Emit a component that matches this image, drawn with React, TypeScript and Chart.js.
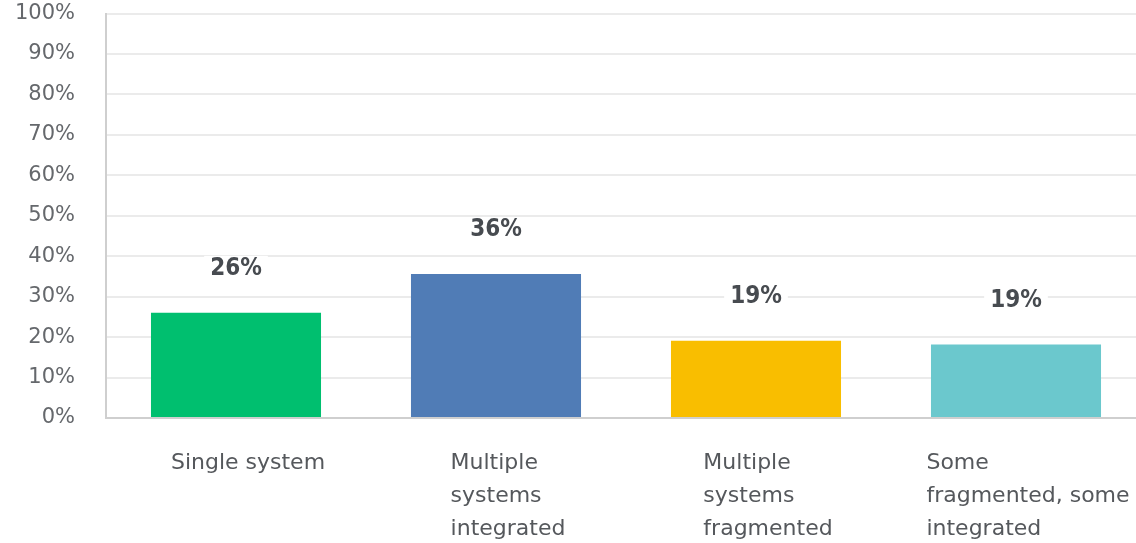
import React, { useEffect, useRef } from "react";
import { Chart, registerables } from "chart.js";

Chart.register(...registerables);

const categories: string[][] = [
  ["Single system"],
  ["Multiple", "systems", "integrated"],
  ["Multiple", "systems", "fragmented"],
  ["Some", "fragmented, some", "integrated"],
];
const values: number[] = [26, 35.6, 19.1, 18.2];
const valueLabels: string[] = ["26%", "36%", "19%", "19%"];
const barColors: string[] = ["#00bf6f", "#507cb6", "#f9be00", "#6bc8cd"];
const yTicks: number[] = [0, 10, 20, 30, 40, 50, 60, 70, 80, 90, 100];

const FONT = "'DejaVu Sans', sans-serif";
const VFONT = "'DejaVu Sans Condensed', 'DejaVu Sans', sans-serif";

const labelsPlugin = {
  id: "customLabels",
  afterDatasetsDraw(chart: any) {
    const ctx = chart.ctx;
    const meta = chart.getDatasetMeta(0);
    const xScale = chart.scales.x;
    const area = chart.chartArea;
    ctx.save();
    // value labels
    ctx.font = `bold 24px ${VFONT}`;
    ctx.textBaseline = "middle";
    ctx.textAlign = "center";
    meta.data.forEach((bar: any, i: number) => {
      const text = valueLabels[i];
      const w = ctx.measureText(text).width;
      const cy = bar.y - 44;
      ctx.fillStyle = "#ffffff";
      ctx.fillRect(bar.x - w / 2 - 6, cy - 13, w + 12, 26);
      ctx.fillStyle = "#474b50";
      ctx.fillText(text, bar.x, cy);
    });
    // category labels (left-aligned lines, block centred)
    ctx.font = `22px ${FONT}`;
    ctx.textAlign = "left";
    ctx.fillStyle = "#55585c";
    categories.forEach((lines, i) => {
      const cx = xScale.getPixelForValue(i) + 12;
      const maxW = Math.max(...lines.map((l) => ctx.measureText(l).width));
      const left = cx - maxW / 2;
      lines.forEach((line, j) => {
        ctx.fillText(line, left, area.bottom + 45 + j * 33);
      });
    });
    ctx.restore();
  },
};

export default function App() {
  const canvasRef = useRef<HTMLCanvasElement | null>(null);

  useEffect(() => {
    if (!canvasRef.current) return;
    const chart = new Chart(canvasRef.current, {
      type: "bar",
      data: {
        labels: categories.map((c) => c.join(" ")),
        datasets: [
          {
            data: values,
            backgroundColor: barColors,
            borderWidth: 0,
            categoryPercentage: 1,
            barPercentage: 0.654,
          },
        ],
      },
      options: {
        animation: false,
        responsive: true,
        maintainAspectRatio: false,
        layout: { padding: { top: 13, bottom: 126, left: 0, right: 0 } },
        plugins: {
          legend: { display: false },
          tooltip: { enabled: false },
        },
        scales: {
          x: {
            ticks: { display: false },
            grid: { display: false },
            border: { display: true, color: "#cfcfcf", width: 2 },
          },
          y: {
            min: 0,
            max: 100,
            afterBuildTicks: (scale: any) => {
              scale.ticks = yTicks.map((v) => ({ value: v }));
            },
            afterFit: (scale: any) => {
              scale.width = 106;
            },
            ticks: {
              callback: (v: any) => `${v}%`,
              font: { family: FONT, size: 21 },
              color: "#65686c",
              padding: 31,
            },
            grid: { color: "#ebebeb", drawTicks: false, lineWidth: 2 },
            border: { display: true, color: "#cfcfcf", width: 2 },
          },
        },
      },
      plugins: [labelsPlugin],
    });
    return () => chart.destroy();
  }, []);

  return (
    <div
      style={{
        position: "fixed",
        left: 0,
        top: 0,
        width: 1136,
        height: 543,
        overflow: "hidden",
        background: "#ffffff",
      }}
    >
      <div style={{ position: "absolute", left: 0, top: -30, width: 1146, height: 582 }}>
        <canvas ref={canvasRef} />
      </div>
    </div>
  );
}
